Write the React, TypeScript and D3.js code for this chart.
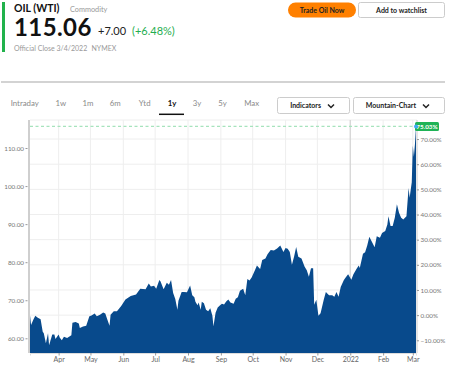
import React, { useEffect, useRef } from 'react'
import * as d3 from 'd3'

// WTI daily closes
const dates = [
  '2021-03-05', '2021-03-06', '2021-03-08', '2021-03-10', '2021-03-12', '2021-03-15', '2021-03-17', '2021-03-18',
  '2021-03-20', '2021-03-22', '2021-03-23', '2021-03-26', '2021-03-28', '2021-03-29', '2021-04-01', '2021-04-02',
  '2021-04-04', '2021-04-06', '2021-04-09', '2021-04-13', '2021-04-14', '2021-04-17', '2021-04-20', '2021-04-21',
  '2021-04-24', '2021-04-27', '2021-04-30', '2021-05-02', '2021-05-05', '2021-05-07', '2021-05-10', '2021-05-13',
  '2021-05-15', '2021-05-17', '2021-05-19', '2021-05-20', '2021-05-23', '2021-05-26', '2021-05-30', '2021-06-03',
  '2021-06-08', '2021-06-13', '2021-06-17', '2021-06-22', '2021-06-25', '2021-06-27', '2021-06-30', '2021-07-02',
  '2021-07-05', '2021-07-06', '2021-07-09', '2021-07-12', '2021-07-14', '2021-07-16', '2021-07-18', '2021-07-20',
  '2021-07-22', '2021-07-23', '2021-07-26', '2021-07-28', '2021-07-31', '2021-08-02', '2021-08-03', '2021-08-05',
  '2021-08-07', '2021-08-08', '2021-08-10', '2021-08-11', '2021-08-13', '2021-08-14', '2021-08-16', '2021-08-18',
  '2021-08-20', '2021-08-22', '2021-08-24', '2021-08-25', '2021-08-27', '2021-08-29', '2021-08-31', '2021-09-02',
  '2021-09-04', '2021-09-06', '2021-09-08', '2021-09-10', '2021-09-13', '2021-09-15', '2021-09-17', '2021-09-19',
  '2021-09-22', '2021-09-24', '2021-09-26', '2021-09-28', '2021-09-30', '2021-10-03', '2021-10-05', '2021-10-08',
  '2021-10-10', '2021-10-13', '2021-10-15', '2021-10-18', '2021-10-21', '2021-10-24', '2021-10-27', '2021-10-30',
  '2021-11-01', '2021-11-03', '2021-11-05', '2021-11-07', '2021-11-09', '2021-11-11', '2021-11-13', '2021-11-16',
  '2021-11-19', '2021-11-21', '2021-11-23', '2021-11-25', '2021-11-27', '2021-11-28', '2021-11-30', '2021-12-02',
  '2021-12-04', '2021-12-07', '2021-12-09', '2021-12-12', '2021-12-15', '2021-12-17', '2021-12-19', '2021-12-21',
  '2021-12-23', '2021-12-26', '2021-12-28', '2021-12-30', '2022-01-02', '2022-01-04', '2022-01-07', '2022-01-09',
  '2022-01-10', '2022-01-13', '2022-01-15', '2022-01-17', '2022-01-19', '2022-01-21', '2022-01-24', '2022-01-26',
  '2022-01-29', '2022-01-31', '2022-02-03', '2022-02-05', '2022-02-06', '2022-02-08', '2022-02-10', '2022-02-12',
  '2022-02-14', '2022-02-16', '2022-02-18', '2022-02-20', '2022-02-23', '2022-02-25', '2022-02-26', '2022-02-28',
  '2022-03-01', '2022-03-02', '2022-03-03', '2022-03-04',
]
const prices = [
  66.09, 63.5, 64.8, 65.9, 65.5, 65.0, 61.7, 61.3,
  58.7, 61.3, 58.2, 61.0, 61.0, 59.8, 61.0, 60.2,
  59.5, 60.4, 60.1, 60.8, 64.1, 64.3, 63.9, 62.7,
  63.1, 63.3, 65.8, 66.0, 66.5, 65.8, 66.2, 66.8,
  66.5, 64.9, 63.3, 66.2, 67.1, 67.1, 68.5, 70.2,
  71.1, 71.5, 73.0, 72.9, 74.4, 73.6, 73.8, 73.0,
  75.3, 75.0, 72.9, 74.6, 74.1, 75.3, 71.9, 70.3,
  67.5, 69.9, 72.2, 72.2, 72.1, 73.3, 73.9, 71.3,
  70.8, 69.6, 68.7, 69.4, 67.5, 69.6, 69.2, 67.5,
  67.1, 67.9, 65.9, 63.2, 66.7, 68.1, 68.6, 69.1,
  68.9, 69.7, 70.2, 69.4, 69.1, 70.4, 70.8, 72.5,
  73.0, 71.3, 75.6, 75.2, 76.0, 77.8, 79.1, 78.2,
  80.6, 81.0, 82.1, 83.2, 83.1, 83.6, 84.4, 82.7,
  83.7, 83.5, 82.7, 79.3, 81.4, 84.0, 81.4, 81.0,
  78.8, 77.9, 76.2, 78.4, 78.4, 68.8, 70.1, 65.9,
  66.6, 70.1, 72.2, 71.3, 71.3, 70.9, 72.2, 70.9,
  73.5, 75.3, 76.1, 76.8, 75.4, 76.8, 78.3, 79.1,
  78.5, 82.2, 82.6, 84.4, 86.7, 85.6, 83.9, 86.8,
  86.4, 87.7, 88.2, 89.9, 92.1, 89.5, 89.5, 91.7,
  95.2, 93.0, 91.7, 91.2, 92.1, 99.5, 96.9, 101.0,
  110.6, 107.7, 111.0, 115.68,
]
const priceTicks = [60, 70, 80, 90, 100, 110]
const pctTicks = [-10, 0, 10, 20, 30, 40, 50, 60, 70]
const tabs = ['Intraday', '1w', '1m', '6m', 'Ytd', '1y', '3y', '5y', 'Max']
const tabCenters = [24.7, 60.8, 88, 115.3, 144.7, 172, 197, 222.5, 251.7]
const changeLabel = '75.03%'

const FONT = 'Lato, "Open Sans", sans-serif'

function App() {
  const ref = useRef(null)

  useEffect(() => {
    const svg = d3.select(ref.current)
    svg.selectAll('*').remove()
    const left = 30, right = 416, top = 120, bottom = 353
    const parse = d3.timeParse('%Y-%m-%d')
    const data = dates.map((d, i) => ({ date: parse(d), price: prices[i] }))
    const base = prices[0]
    const last = data[data.length - 1]

    // ---------- header ----------
    svg.append('rect').attr('x', 2).attr('y', 2).attr('width', 3).attr('height', 50).attr('fill', '#21b24c')
    svg.append('text').attr('x', 14).attr('y', 11.5).attr('font-size', 10.5).attr('font-weight', 700)
      .attr('fill', '#111').text('OIL (WTI)')
    svg.append('text').attr('x', 70).attr('y', 11.5).attr('font-size', 7.3).attr('fill', '#999').text('Commodity')
    svg.append('text').attr('x', 14).attr('y', 36).attr('font-size', 24).attr('font-weight', 700)
      .attr('letter-spacing', 0.4).attr('fill', '#111').text('115.06')
    svg.append('text').attr('x', 98).attr('y', 35).attr('font-size', 11).attr('fill', '#222').text('+7.00')
    svg.append('text').attr('x', 132).attr('y', 35).attr('font-size', 11).attr('fill', '#1fae50').text('(+6.48%)')
    svg.append('text').attr('x', 14).attr('y', 51).attr('font-size', 7).attr('fill', '#999').text('Official Close 3/4/2022')
    svg.append('text').attr('x', 91.5).attr('y', 51).attr('font-size', 7).attr('fill', '#999').text('NYMEX')

    svg.append('rect').attr('x', 288).attr('y', 2.5).attr('width', 68).attr('height', 15).attr('rx', 7.5)
      .attr('fill', '#ff8000')
    svg.append('text').attr('x', 322).attr('y', 12.5).attr('text-anchor', 'middle').attr('font-size', 7)
      .attr('font-weight', 700).attr('fill', '#222').text('Trade Oil Now')
    svg.append('rect').attr('x', 358.5).attr('y', 2.5).attr('width', 86).attr('height', 15).attr('rx', 2)
      .attr('fill', '#fff').attr('stroke', '#ccc')
    svg.append('text').attr('x', 401.5).attr('y', 12.5).attr('text-anchor', 'middle').attr('font-size', 7)
      .attr('font-weight', 700).attr('fill', '#222').text('Add to watchlist')

    svg.append('line').attr('x1', 1).attr('x2', 445).attr('y1', 82).attr('y2', 82)
      .attr('stroke', '#a8a8a8').attr('stroke-width', 1.2)

    // ---------- tabs ----------
    tabs.forEach((t, i) => {
      svg.append('text').attr('x', tabCenters[i]).attr('y', 106).attr('text-anchor', 'middle')
        .attr('font-size', 7.8).attr('font-weight', t === '1y' ? 700 : 400)
        .attr('fill', t === '1y' ? '#111' : '#8a8a8a').text(t)
    })
    svg.append('line').attr('x1', 159).attr('x2', 184).attr('y1', 114.3).attr('y2', 114.3)
      .attr('stroke', '#111').attr('stroke-width', 1.5)

    const dropdown = (x, w, label, chevX) => {
      svg.append('rect').attr('x', x).attr('y', 97.5).attr('width', w).attr('height', 16).attr('rx', 2)
        .attr('fill', '#fff').attr('stroke', '#ccc')
      svg.append('text').attr('x', chevX - 7).attr('y', 108).attr('text-anchor', 'end').attr('font-size', 7)
        .attr('font-weight', 700).attr('fill', '#222').text(label)
      svg.append('path').attr('d', `M${chevX},104.5 L${chevX + 3},107.5 L${chevX + 6},104.5`)
        .attr('fill', 'none').attr('stroke', '#222').attr('stroke-width', 1.5)
    }
    dropdown(277.5, 72, 'Indicators', 328)
    dropdown(353.5, 91, 'Mountain-Chart', 423)

    // ---------- chart ----------
    const x = d3.scaleTime().domain([data[0].date, last.date]).range([left, right])
    const y = d3.scaleLinear().domain([56.14, 117.36]).range([bottom, top])
    const pctY = (v) => y(base * (1 + v / 100))
    const months = x.ticks(d3.timeMonth.every(1)).filter((d) => d > data[0].date)

    const grid = svg.append('g')
    grid.append('line').attr('x1', left).attr('x2', right + 1).attr('y1', top).attr('y2', top)
      .attr('stroke', '#eee')
    grid.selectAll('.h').data(pctTicks).enter().append('line')
      .attr('x1', left).attr('x2', right + 1).attr('y1', (d) => pctY(d)).attr('y2', (d) => pctY(d))
      .attr('stroke', '#eee')
    grid.selectAll('.v').data(months).enter().append('line')
      .attr('x1', (d) => x(d)).attr('x2', (d) => x(d)).attr('y1', top).attr('y2', bottom)
      .attr('stroke', (d) => (d.getMonth() === 0 ? '#d4d4d4' : '#eee'))
      .attr('stroke-width', (d) => (d.getMonth() === 0 ? 1.3 : 1))

    const area = d3.area()
      .x((d) => x(d.date))
      .y0(bottom)
      .y1((d) => y(d.price))
    svg.append('path').datum(data).attr('d', area).attr('fill', '#084a8c')

    // left price axis
    svg.append('line').attr('x1', 29).attr('x2', 29).attr('y1', top).attr('y2', bottom)
      .attr('stroke', '#cfcfcf').attr('stroke-width', 2)
    const axL = svg.append('g').attr('transform', 'translate(27.5,0)')
      .call(d3.axisLeft(y).tickValues(priceTicks).tickFormat(d3.format('.2f')).tickSize(2).tickPadding(1.5))
    axL.select('.domain').remove()
    axL.selectAll('line').attr('stroke', '#999')
    axL.selectAll('text').attr('font-size', 6.3).attr('fill', '#777')

    // right percent axis
    const axR = svg.append('g').attr('transform', `translate(${right + 1},0)`)
      .call(d3.axisRight(d3.scaleLinear().domain([pctTicks[0], 70]).range([pctY(pctTicks[0]), pctY(70)]))
        .tickValues(pctTicks).tickFormat((d) => d3.format('.2f')(d) + '%').tickSize(2).tickPadding(1.5))
    axR.select('.domain').attr('stroke', '#ccc').attr('d', `M0,${top}V${bottom}`)
    axR.selectAll('line').attr('stroke', '#999')
    axR.selectAll('text').attr('font-size', 6.3).attr('fill', '#777')

    // bottom month axis
    const axB = svg.append('g').attr('transform', `translate(0,${bottom})`)
      .call(d3.axisBottom(x).tickValues(months)
        .tickFormat((d) => (d.getMonth() === 0 ? d3.timeFormat('%Y')(d) : d3.timeFormat('%b')(d)))
        .tickSize(2.5).tickPadding(2))
    axB.select('.domain').attr('stroke', '#ddd')
    axB.selectAll('line').attr('stroke', '#999')
    axB.selectAll('text').attr('font-size', 7).attr('fill', '#666')

    // last-value marker
    svg.append('line').attr('x1', left).attr('x2', right).attr('y1', y(last.price)).attr('y2', y(last.price))
      .attr('stroke', '#a6e3bd').attr('stroke-width', 1.3).attr('stroke-dasharray', '3,2.5')
    svg.append('rect').attr('x', right - 1).attr('y', y(last.price) - 4.5).attr('width', 24).attr('height', 9)
      .attr('rx', 1.5).attr('fill', '#1fb356')
    svg.append('text').attr('x', right + 11).attr('y', y(last.price) + 2.2).attr('text-anchor', 'middle')
      .attr('font-size', 6.3).attr('font-weight', 700).attr('fill', '#fff').text(changeLabel)
    svg.append('circle').attr('cx', x(last.date)).attr('cy', y(last.price)).attr('r', 2).attr('fill', '#3fa9f5')

    svg.selectAll('text').attr('font-family', FONT)
  }, [])

  return (
    <div>
      <style>{`body { margin: 0; }`}</style>
      <svg ref={ref} width={452} height={367} style={{ display: 'block' }}></svg>
    </div>
  )
}

export default App
